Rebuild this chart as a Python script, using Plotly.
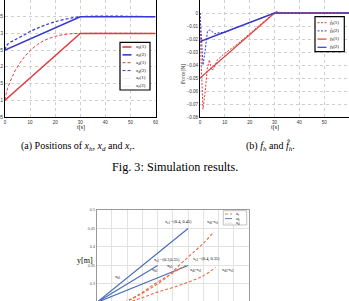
import plotly.graph_objects as go

W, H = 349, 301

# ---------------- data ----------------
# (a) positions
t_a = [0, 30, 60]
xh1 = [0.10, 0.30, 0.30]
xh2 = [0.25, 0.35, 0.35]
t_d = [0, 0.5, 1, 2, 3, 4, 6, 8, 10, 13, 16, 20, 25, 30, 60]
xd1 = [0.10, 0.12, 0.135, 0.155, 0.172, 0.188, 0.212, 0.232, 0.248, 0.267, 0.280, 0.291, 0.298, 0.30, 0.30]
xd2 = [0.25, 0.262, 0.267, 0.273, 0.277, 0.281, 0.289, 0.297, 0.306, 0.316, 0.325, 0.335, 0.344, 0.35, 0.35]

# (b) forces
t_b = [0, 30, 60]
fh1 = [-0.05, 0.0, 0.0]
fh2 = [-0.022, 0.0, 0.0]
t_f1 = [0, 0.4, 1.2, 2.0, 3.0, 3.8, 4.6, 5.5, 7, 10, 15, 20, 25, 29, 30.5, 32, 34, 60]
fhat1 = [0, -0.035, -0.074, -0.062, -0.042, -0.036, -0.044, -0.043, -0.036, -0.031, -0.024, -0.016, -0.008, -0.001, 0.0012, 0.0005, 0, 0]
t_f2 = [0, 0.5, 1.2, 2, 3, 4, 6, 8, 10, 15, 20, 25, 30, 60]
fhat2 = [0, -0.02, -0.04, -0.03, -0.014, -0.013, -0.016, -0.015, -0.015, -0.011, -0.0075, -0.0037, 0, 0]

# (c) trajectories in the plane
xh_lines_x = [[0.1, 0.4], [0.1, 0.3], [0.1, 0.4]]
xh_lines_y = [[0.25, 0.45], [0.25, 0.35], [0.25, 0.35]]
xr_curves_x = [[0.19, 0.24, 0.29, 0.33, 0.37, 0.41, 0.45, 0.485],
               [0.19, 0.24, 0.29, 0.33, 0.37, 0.392],
               [0.20, 0.25, 0.30, 0.36, 0.41, 0.45, 0.49]]
xr_curves_y = [[0.25, 0.27, 0.295, 0.318, 0.35, 0.38, 0.41, 0.441],
               [0.25, 0.272, 0.30, 0.32, 0.34, 0.351],
               [0.25, 0.263, 0.278, 0.293, 0.308, 0.322, 0.345]]

RED = "#e33b3b"
BLUE = "#3838cc"
RED2 = "#ee6a3f"
BLUE2 = "#4a6fb8"
DASH = "3px,2px"


def P(x, y):
    return x / W, 1 - y / H


fig = go.Figure()

# (a)
fig.add_trace(go.Scatter(x=t_a, y=xh1, mode="lines", line=dict(color="#f4f4f4", width=1), xaxis="x", yaxis="y"))
fig.add_trace(go.Scatter(x=t_a, y=xh2, mode="lines", line=dict(color="#f4f4f4", width=1), xaxis="x", yaxis="y"))
fig.add_trace(go.Scatter(x=t_a, y=xh1, mode="lines", line=dict(color=RED, width=1.5), xaxis="x", yaxis="y"))
fig.add_trace(go.Scatter(x=t_a, y=xh2, mode="lines", line=dict(color=BLUE, width=1.5), xaxis="x", yaxis="y"))
fig.add_trace(go.Scatter(x=t_d, y=xd1, mode="lines", line=dict(color=RED, width=1, dash=DASH, shape="spline"), xaxis="x", yaxis="y"))
fig.add_trace(go.Scatter(x=t_d, y=xd2, mode="lines", line=dict(color=BLUE, width=1.2, dash=DASH, shape="spline"), xaxis="x", yaxis="y"))

# (b)
fig.add_trace(go.Scatter(x=t_b, y=fh1, mode="lines", line=dict(color=RED, width=1.2), xaxis="x2", yaxis="y2"))
fig.add_trace(go.Scatter(x=t_b, y=fh2, mode="lines", line=dict(color=BLUE, width=1.4), xaxis="x2", yaxis="y2"))
fig.add_trace(go.Scatter(x=t_f1, y=fhat1, mode="lines", line=dict(color=RED, width=1, dash="2px,1.5px"), xaxis="x2", yaxis="y2"))
fig.add_trace(go.Scatter(x=t_f2, y=fhat2, mode="lines", line=dict(color=BLUE, width=1, dash="2px,1.5px"), xaxis="x2", yaxis="y2"))

# (c)
for xs, ys in zip(xh_lines_x, xh_lines_y):
    fig.add_trace(go.Scatter(x=xs, y=ys, mode="lines", line=dict(color=BLUE2, width=1.2), xaxis="x3", yaxis="y3"))
for xs, ys in zip(xr_curves_x, xr_curves_y):
    fig.add_trace(go.Scatter(x=xs, y=ys, mode="lines", line=dict(color=RED2, width=1.1, dash=DASH, shape="spline"), xaxis="x3", yaxis="y3"))

tickfont = dict(family="Liberation Sans", size=4.5, color="#333")
grid = dict(showgrid=True, gridcolor="#cfcfcf", gridwidth=0.6, griddash="dot", zeroline=False,
            showline=True, linecolor="black", linewidth=1.4, mirror=True, ticks="", tickfont=tickfont,
            automargin=False)
grid3 = dict(showgrid=True, gridcolor="#e2e2e2", gridwidth=0.6, zeroline=False, ticks="",
             tickfont=dict(family="Liberation Sans", size=3.8, color="#555"), automargin=False)

fig.update_layout(
    width=W, height=H, margin=dict(l=0, r=0, t=0, b=0),
    paper_bgcolor="white", plot_bgcolor="white", showlegend=False, template="none",
    xaxis=dict(domain=[5 / W, 155.5 / W], range=[0, 60], dtick=10, anchor="y", **grid),
    yaxis=dict(domain=[1 - 117 / H, 1], range=[0.05, 0.4], dtick=0.05, anchor="x", **grid),
    xaxis2=dict(domain=[200 / W, 1], range=[0, 60], dtick=10, anchor="y2", **grid),
    yaxis2=dict(domain=[1 - 117 / H, 1], range=[-0.08, 0.01], dtick=0.01, anchor="x2", **grid),
    xaxis3=dict(domain=[96.7 / W, 249 / W], range=[0.1, 0.6], dtick=0.05, anchor="y3", showticklabels=False,
                showline=True, linecolor="#999", linewidth=0.8, side="top", **grid3),
    yaxis3=dict(domain=[0, 1 - 210 / H], range=[0.254, 0.5], dtick=0.05, anchor="x3",
                showline=True, linecolor="#999", linewidth=0.8, mirror=True, **grid3),
)

shapes = []
ann = []


def text(x, y, s, size=5, family="Liberation Serif", xanchor="center", color="black"):
    px, py = P(x, y)
    ann.append(dict(x=px, y=py, xref="paper", yref="paper", text=s, showarrow=False,
                    xanchor=xanchor, yanchor="middle", font=dict(family=family, size=size, color=color)))


def seg(x0, x1, y, color, width, dash="solid"):
    a, b = P(x0, y)
    c, d = P(x1, y)
    shapes.append(dict(type="line", xref="paper", yref="paper", x0=a, y0=b, x1=c, y1=d,
                       line=dict(color=color, width=width, dash=dash)))


def box(x0, y0, x1, y1, width=1.2, color="black"):
    a, b = P(x0, y0)
    c, d = P(x1, y1)
    shapes.append(dict(type="rect", xref="paper", yref="paper", x0=a, y0=d, x1=c, y1=b,
                       line=dict(color=color, width=width), fillcolor="white", layer="above"))


# legend (a)
box(120, 42.3, 150, 90)
leg_a = [("<i>x<sub>h</sub></i>(1)", RED, 1.6, "solid"),
         ("<i>x<sub>h</sub></i>(2)", BLUE, 1.6, "solid"),
         ("<i>x<sub>d</sub></i>(1)", RED, 1, DASH),
         ("<i>x<sub>d</sub></i>(2)", BLUE, 1, DASH),
         ("<i>x<sub>r</sub></i>(1)", "#eeeeee", 1, "solid"),
         ("<i>x<sub>r</sub></i>(2)", "#eeeeee", 1, "solid")]
for i, (lab, c, w, d) in enumerate(leg_a):
    y = 47 + 7.85 * i
    seg(122.5, 131.5, y, c, w, d)
    text(132.5, y, lab, size=5, xanchor="left")

# legend (b)
box(315, 16.7, 344.3, 51.7)
leg_b = [("<i>f̂<sub>h</sub></i>(1)", RED, 1, "2px,1.5px"),
         ("<i>f̂<sub>h</sub></i>(2)", BLUE, 1, "2px,1.5px"),
         ("<i>f<sub>h</sub></i>(1)", RED, 1.2, "solid"),
         ("<i>f<sub>h</sub></i>(2)", BLUE, 1.2, "solid")]
for i, (lab, c, w, d) in enumerate(leg_b):
    y = 22.7 + 8.2 * i
    seg(317.5, 326.5, y, c, w, d)
    text(327.5, y, lab, size=5, xanchor="left")

# legend (c)
box(223.3, 210.7, 246.7, 225, width=0.6, color="#999")
leg_c = [("<i>x<sub>r</sub></i>", RED2, 0.9, DASH),
         ("<i>x<sub>h</sub></i>", BLUE2, 0.9, "solid"),
         ("<i>x<sub>d</sub></i>", "#dddddd", 0.9, "solid")]
for i, (lab, c, w, d) in enumerate(leg_c):
    y = 214 + 4.6 * i
    seg(225, 232, y, c, w, d)
    text(233, y, lab, size=4.5, xanchor="left")

# axis titles
text(80.5, 127, "t[s]", size=6)
text(275, 127, "t[s]", size=6)
px, py = P(183, 62)
ann.append(dict(x=px, y=py, xref="paper", yref="paper", text="Force[N]", showarrow=False, textangle=-90,
                font=dict(family="Liberation Serif", size=5.5, color="#333")))
text(85, 260, "y[m]", size=8)

# captions
text(77.5, 146, "(a) Positions of <i>x<sub>h</sub></i>, <i>x<sub>d</sub></i> and <i>x<sub>r</sub></i>.", size=10)
text(270.5, 146, "(b) <i>f<sub>h</sub></i> and <i>f̂<sub>h</sub></i>.", size=10)
text(175, 167, "Fig. 3: Simulation results.", size=12.2)

# annotations (c)
s = 4.3
text(178, 222, "x<sub>e1</sub> =(0.4, 0.45)", size=s)
text(213, 222, "x<sub>d1</sub>-x<sub>r1</sub>", size=s)
text(167, 260, "x<sub>e2</sub> =(0.3,0.35)", size=s)
text(206, 259, "x<sub>e3</sub> =(0.4, 0.35)", size=s)
text(118, 277, "x<sub>h1</sub>", size=s)
text(155, 270, "x<sub>h2</sub>", size=s)
text(170, 265.7, "x<sub>h3</sub>", size=s)
text(196, 270, "x<sub>d2</sub>-x<sub>r2</sub>", size=s)
text(228, 270, "x<sub>d3</sub>-x<sub>r3</sub>", size=s)

fig.update_layout(shapes=shapes, annotations=ann)
fig.write_html("out.html")
